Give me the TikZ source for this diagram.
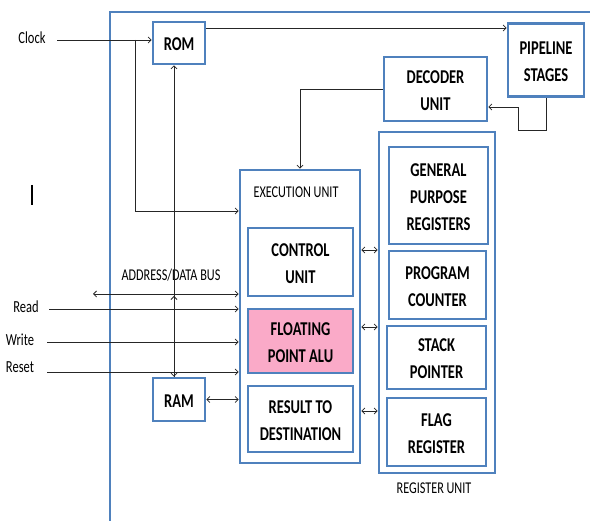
\documentclass[tikz,border=0pt]{standalone}
\usepackage{fontspec}
\usepackage{graphicx}
\setmainfont{Carlito}
\usetikzlibrary{arrows.meta}
\definecolor{bblue}{RGB}{79,129,189}
\definecolor{pinkf}{RGB}{250,170,200}
\newcommand{\lbl}[1]{\raisebox{-2.5pt}[\height][\depth]{\scalebox{1}[1.35]{\begin{tabular}{@{}c@{}}#1\end{tabular}}}}
\newcommand{\slbl}[1]{\scalebox{1}[1.35]{#1}}
\begin{document}
\begin{tikzpicture}[x=1pt,y=-1pt,
  box/.style={draw=bblue, line width=2.6pt, fill=white, inner sep=0pt, align=center,
    font=\bfseries\fontsize{14.5}{20}\selectfont},
  frame/.style={draw=bblue, line width=2.6pt, fill=white, inner sep=0pt},
  small/.style={inner sep=0pt, font=\fontsize{12.2}{14}\selectfont},
  side/.style={inner sep=0pt, font=\fontsize{12.5}{14}\selectfont},
  conn/.style={draw=black!85, line width=0.8pt},
  arr/.style={conn, -{Straight Barb[length=3pt,width=6pt]}},
  biarr/.style={conn, {Straight Barb[length=3pt,width=6pt]}-{Straight Barb[length=3pt,width=6pt]}}]
\useasboundingbox (0,0) rectangle (590,521);
\fill[white] (0,0) rectangle (590,521);
% outer frame (open to the right and bottom)
\draw[bblue, line width=2.6pt] (590,12) -- (110,12) -- (110,521);
% stray bar
\draw[black, line width=1.3pt] (32,185) -- (32,205);

% big frames
\node[frame, minimum width=120, minimum height=293] (eu) at (300,316.5) {};
\node[frame, minimum width=116, minimum height=341] (ru) at (437,302.5) {};

% boxes
\node[box, minimum width=52, minimum height=42] (rom) at (179,43) {\lbl{ROM}};
\node[box, minimum width=52, minimum height=43] (ram) at (179,399.5) {\lbl{RAM}};
\node[box, minimum width=76, minimum height=73] (pipe) at (546,60) {\lbl{PIPELINE\\STAGES}};
\node[box, minimum width=103, minimum height=64] (dec) at (435.5,89) {\lbl{DECODER\\UNIT}};
\node[box, minimum width=105, minimum height=68] (cu) at (300.5,262) {\lbl{CONTROL\\UNIT}};
\node[box, fill=pinkf, minimum width=105, minimum height=64] (alu) at (300.5,341) {\lbl{FLOATING\\POINT ALU}};
\node[box, minimum width=105, minimum height=66] (res) at (300.5,419) {\lbl{RESULT TO\\DESTINATION}};
\node[box, minimum width=99, minimum height=97] (gpr) at (438.5,195.5) {\lbl{GENERAL\\PURPOSE\\REGISTERS}};
\node[box, minimum width=97, minimum height=68] (pc) at (437.5,285) {\lbl{PROGRAM\\COUNTER}};
\node[box, minimum width=99, minimum height=63] (sp) at (436.5,357.5) {\lbl{STACK\\POINTER}};
\node[box, minimum width=99, minimum height=68] (fr) at (436.5,432) {\lbl{FLAG\\REGISTER}};

% texts
\node[small] (eut) at (296,192) {\slbl{EXECUTION UNIT}};
\node[small] (rut) at (434,488) {\slbl{REGISTER UNIT}};
\node[small] (bust) at (171,275) {\slbl{ADDRESS/DATA BUS}};
\node[side] (clkt) at (32,38) {\slbl{Clock}};
\node[side] (rdt) at (26,307) {\slbl{Read}};
\node[side] (wrt) at (20,340) {\slbl{Write}};
\node[side] (rst) at (20,367) {\slbl{Reset}};

% coordinates
\coordinate (clk) at (57,40);
\coordinate (cbr) at (135,40);
\coordinate (cbd) at (135,211);
\coordinate (rp) at (205,28);
\coordinate (p1) at (546,130);
\coordinate (p2) at (518,130);
\coordinate (p3) at (518,107);
\coordinate (d1) at (300,89);
\coordinate (v) at (174,0);
\coordinate (busv) at (174,296);
\coordinate (bl) at (93,294);
\coordinate (rd) at (49,309);
\coordinate (wr) at (47,342);
\coordinate (rs) at (47,372);
\coordinate (h1) at (0,250);
\coordinate (h2) at (0,327);
\coordinate (h3) at (0,411);

% connectors
\draw[arr] (clk) -- (rom.west |- clk);
\draw[arr] (cbr) -- (cbd) -- (eu.west |- cbd);
\draw[arr] (rom.east |- rp) -- (pipe.west |- rp);
\draw[arr] (pipe.south) -- (p1) -- (p2) -- (p3) -- (dec.east |- p3);
\draw[arr] (dec.west) -- (d1) -- (eu.north);
\draw[biarr] (rom.south -| v) -- (ram.north -| v);
\draw[arr] (ram.north -| v) -- (busv);
\draw[biarr] (bl) -- (eu.west |- bl);
\draw[arr] (rd) -- (eu.west |- rd);
\draw[arr] (wr) -- (eu.west |- wr);
\draw[arr] (rs) -- (eu.west |- rs);
\draw[biarr] (ram.east) -- (eu.west |- ram.east);
\draw[biarr] (eu.east |- h1) -- (ru.west |- h1);
\draw[biarr] (eu.east |- h2) -- (ru.west |- h2);
\draw[biarr] (eu.east |- h3) -- (ru.west |- h3);
\end{tikzpicture}
\end{document}
